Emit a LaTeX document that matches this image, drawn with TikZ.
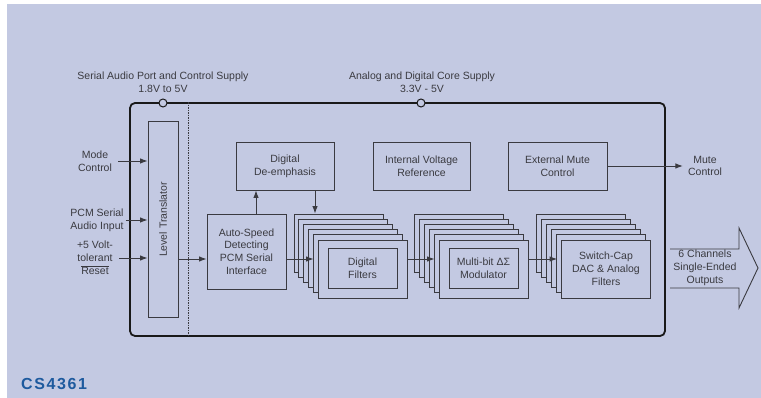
\documentclass[tikz,border=0pt]{standalone}
\usepackage{fontspec}
\setmainfont{Liberation Sans}
\newfontfamily\partfont[LetterSpace=10]{Liberation Sans}
\usepackage{tikz}
\usetikzlibrary{arrows.meta}

\definecolor{panel}{RGB}{195,201,226}
\definecolor{ink}{RGB}{58,58,64}
\definecolor{partblue}{RGB}{30,90,158}

\tikzset{
  >={Latex[length=7.5pt,width=5.5pt]},
  every node/.style={text=ink, font=\fontsize{10.5}{12.8}\selectfont},
  block/.style={draw=ink, line width=0.9pt, fill=panel, align=center, inner sep=0pt},
  layer/.style={draw=ink, line width=0.9pt, fill=panel, inner sep=0pt,
    minimum width=89pt, minimum height=58pt},
  lbl/.style={align=center, inner sep=0pt},
  tap/.style={circle, draw=black!90, line width=1pt, fill=panel, inner sep=0pt, minimum size=8pt},
}

% stack of six boards: name, x, y of the front one, step
\newcommand{\boardstack}[4]{%
  \foreach \i in {5,...,1}
    \node[layer] (#1\i) at ({#2-\i*#4},{#3-\i*5.2}) {};
  \node[layer] (#10) at (#2,#3) {};
}

\begin{document}
\begin{tikzpicture}[x=1pt,y=-1pt]
\useasboundingbox (0,0) rectangle (761,398);
\fill[white] (0,0) rectangle (761,398);
\fill[panel] (7,4) rectangle (761,398);

% chip outline and supplies
\node[draw=black!90, line width=1.8pt, rounded corners=5pt, inner sep=0pt,
  minimum width=535pt, minimum height=233pt] (chip) at (397.5,219.5) {};
\node[tap] (vio) at (163,103) {};
\node[tap] (vcore) at (421,103) {};
\node[lbl] (viotxt) at (163,82.5) {Serial Audio Port and Control Supply\\1.8V to 5V};
\node[lbl] (vcoretxt) at (422,82.5) {Analog and Digital Core Supply\\3.3V - 5V};
\coordinate (split) at (188,0);
\draw[ink, line width=0.6pt, dash pattern=on 1.5pt off 1pt] (chip.north -| split) -- (chip.south -| split);

% level translator and inputs
\node[block, minimum width=30pt, minimum height=196pt] (lt) at (163,219.5) {};
\node[rotate=90, inner sep=0pt] (lttxt) at (lt) {Level Translator};
\node[lbl] (mode) at (95,161) {Mode\\Control};
\node[lbl] (pcm) at (97,220) {PCM Serial\\Audio Input};
\node[lbl] (rst) at (95,258) {+5 Volt-\\tolerant\\$\overline{\mbox{Reset}}$};
\draw[->, ink, line width=0.9pt, shorten <=6pt] (mode.east) -- (mode.east -| lt.west);
\draw[->, ink, line width=0.9pt, shorten <=2pt] (pcm.east) -- (pcm.east -| lt.west);
\draw[->, ink, line width=0.9pt, shorten <=6pt] (rst.east) -- (rst.east -| lt.west);

% upper row
\node[block, minimum width=98pt, minimum height=48pt] (deemph) at (285,166) {Digital\\De-emphasis};
\node[block, minimum width=97pt, minimum height=48pt] (vref) at (421.5,166) {Internal Voltage\\Reference};
\node[block, minimum width=99pt, minimum height=48pt] (mute) at (557.5,166) {External Mute\\Control};
\node[lbl] (mutetxt) at (705,166) {Mute\\Control};
\draw[->, ink, line width=0.9pt, shorten >=5pt] (mute.east) -- (mutetxt.west);

% signal path
\coordinate (sig) at (0,259);
\node[block, minimum width=79pt, minimum height=75pt] (auto) at (246.5,251.5)
  {Auto-Speed\\Detecting\\PCM Serial\\Interface};
\boardstack{fs}{362.5}{269}{4.8}
\node[block, minimum width=69pt, minimum height=40pt] (filt) at (362.5,268) {Digital\\Filters};
\boardstack{ms}{483.5}{269}{5}
\node[block, minimum width=69pt, minimum height=40pt] (mod) at (483.5,268) {Multi-bit ΔΣ\\Modulator};
\boardstack{ds}{606}{269}{5}
\node[lbl] (dac) at (ds0) {Switch-Cap\\DAC \& Analog\\Filters};

\draw[->, ink, line width=0.9pt] (lt.east |- sig) -- (auto.west |- sig);
\draw[->, ink, line width=0.9pt] ([xshift=9.5pt]auto.north) -- ([xshift=9.5pt]auto.north |- deemph.south);
\draw[->, ink, line width=0.9pt] ([xshift=30pt]deemph.south) -- ([xshift=30pt]deemph.south |- fs5.north);
\draw[->, ink, line width=0.9pt, shorten >=4pt] (auto.east |- sig) -- (fs0.west |- sig);
\draw[->, ink, line width=0.9pt, shorten >=4pt] (fs0.east |- sig) -- (ms0.west |- sig);
\draw[->, ink, line width=0.9pt, shorten >=4pt] (ms0.east |- sig) -- (ds0.west |- sig);

% outputs
\node[lbl] (outs) at (705,268) {6 Channels\\Single-Ended\\Outputs};
\draw[ink, line width=0.9pt] (670,249) -- (739,249) -- (739,228) -- (758,268)
  -- (739,308) -- (739,288) -- (670,288);

\node[anchor=west, inner sep=0pt, text=partblue,
  font=\partfont\fontsize{16}{18}\bfseries\selectfont] (part) at (21,384) {CS4361};
\end{tikzpicture}
\end{document}
